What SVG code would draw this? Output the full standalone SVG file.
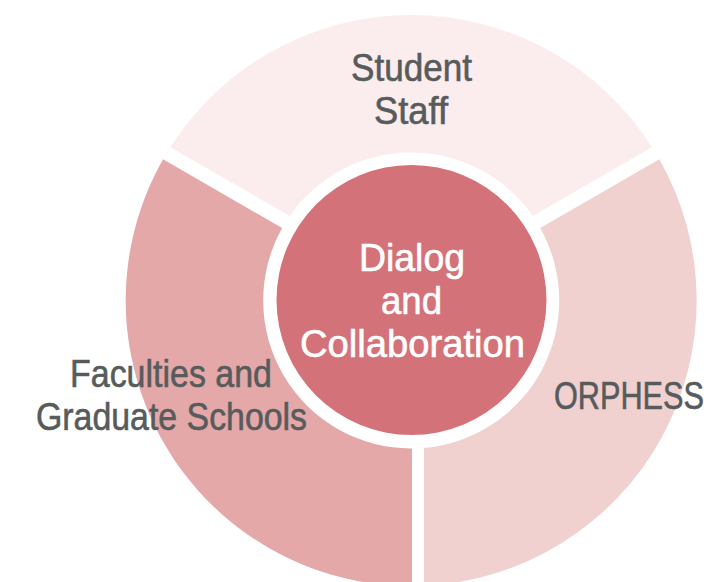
<svg xmlns="http://www.w3.org/2000/svg" width="713" height="582" viewBox="0 0 713 582">
  <style>
    .lbl { font-family: "Liberation Sans", Arial, sans-serif; font-size: 38px; fill: #575b5b; stroke: #575b5b; stroke-width: 0.6; text-anchor: middle; }
    .ctr { font-family: "Liberation Sans", Arial, sans-serif; font-size: 38px; fill: #ffffff; stroke: #ffffff; stroke-width: 0.6; text-anchor: middle; }
  </style>
  <rect x="0" y="0" width="713" height="582" fill="#ffffff"/>
  <g id="student-staff">
    <path d="M 170.39 147.14 A 285.5 285.5 0 0 1 652.01 147.14 L 532.72 216.02 A 148 148 0 0 0 289.68 216.02 Z" fill="#fbeced"/>
    <text class="lbl" x="411.5" y="81" textLength="121" lengthAdjust="spacingAndGlyphs">Student</text>
    <text class="lbl" x="411" y="124" textLength="74" lengthAdjust="spacingAndGlyphs">Staff</text>
  </g>
  <g id="faculties">
    <path d="M 163.10 159.27 A 285.5 285.5 0 0 0 412 586 L 412 448.5 A 148 148 0 0 1 282.17 228.02 Z" fill="#e4a8a9"/>
    <text class="lbl" x="171" y="387" textLength="202" lengthAdjust="spacingAndGlyphs">Faculties and</text>
    <text class="lbl" x="171.5" y="430" textLength="271" lengthAdjust="spacingAndGlyphs">Graduate Schools</text>
  </g>
  <g id="orphess">
    <path d="M 659.31 159.27 A 285.5 285.5 0 0 1 424 585.7 L 424 447.94 A 148 148 0 0 0 540.24 228.02 Z" fill="#f1d1d0"/>
    <text class="lbl" x="629" y="409" textLength="150" lengthAdjust="spacingAndGlyphs">ORPHESS</text>
  </g>
  <g id="dialog">
    <circle cx="411.5" cy="300" r="135" fill="#d37379"/>
    <text class="ctr" x="412" y="271" textLength="106" lengthAdjust="spacingAndGlyphs">Dialog</text>
    <text class="ctr" x="411.5" y="314" textLength="61" lengthAdjust="spacingAndGlyphs">and</text>
    <text class="ctr" x="412.5" y="357" textLength="225" lengthAdjust="spacingAndGlyphs">Collaboration</text>
  </g>
  <g id="connectors"></g>
</svg>
